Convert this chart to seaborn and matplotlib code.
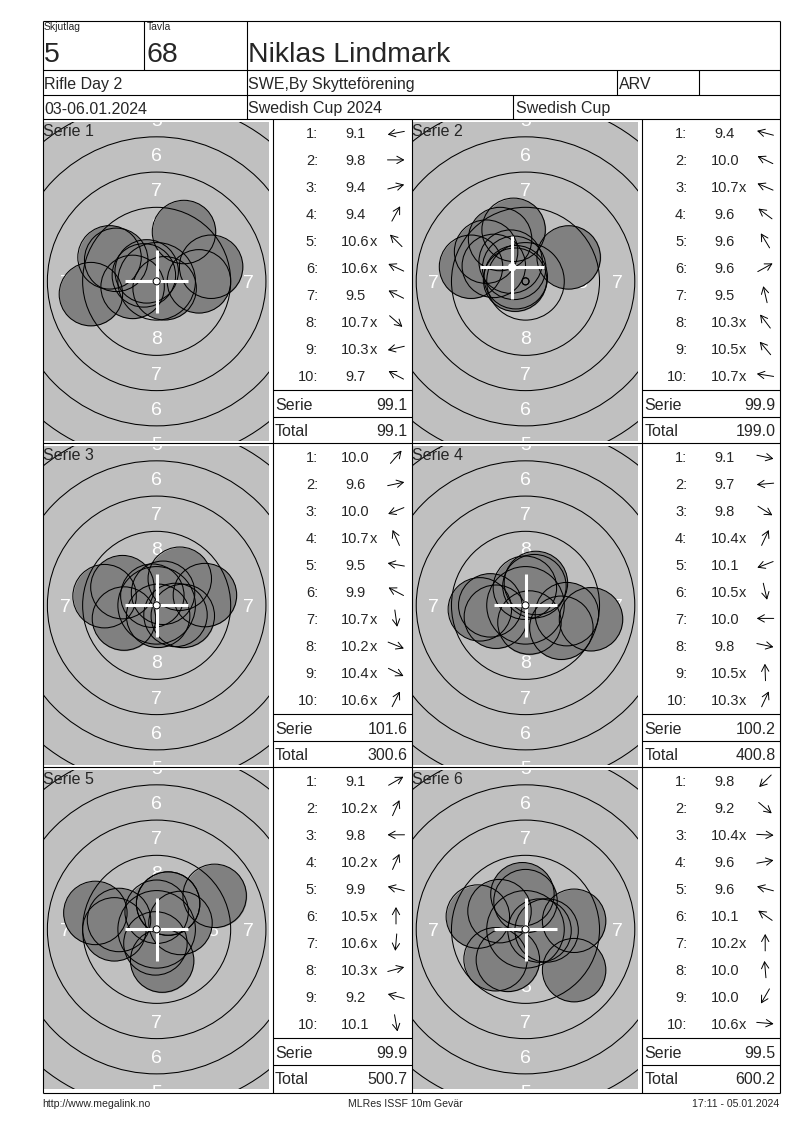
import numpy as np
import matplotlib
matplotlib.use("Agg")
import matplotlib.pyplot as plt
from matplotlib.patches import Circle
import seaborn as sns

sns.set_theme(style="white")
plt.rcParams['font.family'] = ['Liberation Sans', 'DejaVu Sans']

# --- header texts ---
relay = "5"
lane = "68"
shooter = "Niklas Lindmark"
class_name = "Rifle Day 2"
club = "SWE,By Skytteförening"
arv = "ARV"
dates = "03-06.01.2024"
event = "Swedish Cup 2024"
event_short = "Swedish Cup"
footer_left = "http://www.megalink.no"
footer_mid = "MLRes ISSF 10m Gevär"
footer_right = "17:11 - 05.01.2024"

# --- decimal scores per series ---
serie1 = [9.1, 9.8, 9.4, 9.4, 10.6, 10.6, 9.5, 10.7, 10.3, 9.7]
serie2 = [9.4, 10.0, 10.7, 9.6, 9.6, 9.6, 9.5, 10.3, 10.5, 10.7]
serie3 = [10.0, 9.6, 10.0, 10.7, 9.5, 9.9, 10.7, 10.2, 10.4, 10.6]
serie4 = [9.1, 9.7, 9.8, 10.4, 10.1, 10.5, 10.0, 9.8, 10.5, 10.3]
serie5 = [9.1, 10.2, 9.8, 10.2, 9.9, 10.5, 10.6, 10.3, 9.2, 10.1]
serie6 = [9.8, 9.2, 10.4, 9.6, 9.6, 10.1, 10.2, 10.0, 10.0, 10.6]

# --- direction of each hit from the centre (degrees, ccw from right) ---
dir1 = [191, 0, 15, 61, 135, 155, 153, 319, 193, 152]
dir2 = [165, 154, 157, 143, 121, 29, 103, 127, 130, 171]
dir3 = [49, 12, 202, 114, 170, 152, 278, 338, 333, 63]
dir4 = [348, 185, 328, 65, 201, 283, 180, 348, 92, 65]
dir5 = [30, 66, 180, 66, 166, 90, 265, 15, 165, 280]
dir6 = [225, 320, 357, 10, 165, 145, 90, 95, 240, 355]

# white cross position per series (mm from centre)
cross_x = [0.0, -0.95, 0.0, 0.0, 0.0, 0.0]
cross_y = [0.0, 1.0, 0.0, 0.0, 0.0, 0.0]

scores = [serie1, serie2, serie3, serie4, serie5, serie6]
dirs = [dir1, dir2, dir3, dir4, dir5, dir6]

# target geometry (ISSF 10m air rifle, mm)
TEN_R = 0.25
RING_STEP = 2.5
PELLET_R = 2.25
PX_PER_MM = 14.1
TARGET_GREY = "#c0c0c0"
SHOT_GREY = "#808080"

W, H = 800, 1130
fig = plt.figure(figsize=(8, 11.3), dpi=100)


def add_px_axes(x0, y0, x1, y1):
    return fig.add_axes([x0 / W, 1 - y1 / H, (x1 - x0) / W, (y1 - y0) / H])


TGT_X = [(44.0, 269.3), (412.7, 638.3)]
COL_L = [272.5, 641.7]
COL_R = [411.5, 779.5]
marker_s = (2 * PELLET_R * PX_PER_MM * 72 / 100) ** 2

for k in range(6):
    r, c = divmod(k, 2)
    x0, x1 = TGT_X[c]
    y0, y1 = 122 + 324 * r, 440.7 + 324 * r
    ax = add_px_axes(x0, y0, x1, y1)
    ax.set_facecolor(TARGET_GREY)
    hx = (x1 - x0) / 2 / PX_PER_MM
    hy = (y1 - y0) / 2 / PX_PER_MM

    # ring numbers
    for n in range(1, 9):
        rad = TEN_R + (10 - n) * RING_STEP - RING_STEP / 2
        for px, py in [(0, rad), (0, -rad), (rad, 0), (-rad, 0)]:
            ax.text(px, py, str(n), color="white", fontsize=14, ha="center",
                    va="center_baseline", clip_on=True, zorder=1)

    s = np.array(scores[k])
    a = np.radians(dirs[k])
    d = (11 - s) * RING_STEP
    xs, ys = d * np.cos(a), d * np.sin(a)

    sns.scatterplot(x=xs, y=ys, ax=ax, s=marker_s, color=SHOT_GREY,
                    linewidth=0, zorder=2)
    for n in range(1, 11):
        ax.add_patch(Circle((0, 0), TEN_R + (10 - n) * RING_STEP, fill=False,
                            ec="black", lw=0.75, zorder=3))
    sns.scatterplot(x=xs, y=ys, ax=ax, s=marker_s, facecolor="none",
                    edgecolor="black", linewidth=0.75, zorder=3)

    cx, cy = cross_x[k], cross_y[k]
    ax.plot([cx - PELLET_R, cx + PELLET_R], [cy, cy], color="white", lw=2.2,
            solid_capstyle="butt", zorder=4)
    ax.plot([cx, cx], [cy - PELLET_R, cy + PELLET_R], color="white", lw=2.2,
            solid_capstyle="butt", zorder=4)
    ax.add_patch(Circle((cx, cy), TEN_R, color="white", zorder=4))
    ax.add_patch(Circle((0, 0), TEN_R, fill=False, ec="black", lw=0.75, zorder=5))

    ax.set_xlim(-hx, hx)
    ax.set_ylim(-hy, hy)
    ax.set_xticks([])
    ax.set_yticks([])
    ax.set_xlabel("")
    ax.set_ylabel("")
    for sp in ax.spines.values():
        sp.set_visible(False)

# page overlay in pixel units
page = fig.add_axes([0, 0, 1, 1], zorder=10)
page.set_xlim(0, W)
page.set_ylim(H, 0)
page.axis("off")
LW = 0.8


def hline(y, xa, xb):
    page.plot([xa, xb], [y, y], color="black", lw=LW, solid_capstyle="butt")


def vline(x, ya, yb):
    page.plot([x, x], [ya, yb], color="black", lw=LW, solid_capstyle="butt")


LEFT, RIGHT, TOP, BOTTOM = 42.7, 779.5, 21.3, 1093
hline(TOP, LEFT, RIGHT)
hline(BOTTOM, LEFT, RIGHT)
vline(LEFT, TOP, BOTTOM)
vline(RIGHT, TOP, BOTTOM)
for y in [70, 95, 119, 443.3, 767.3]:
    hline(y, LEFT, RIGHT)
vline(144, TOP, 70)
vline(246.7, TOP, 119)
vline(616.7, 70, 95)
vline(699, 70, 95)
vline(513.3, 95, 119)
for x in [272.5, 411.5, 641.7]:
    vline(x, 119, BOTTOM)

# header text
page.text(44, 26.5, "Skjutlag", fontsize=7.5, va="center_baseline")
page.text(146.5, 26.5, "Tavla", fontsize=7.5, va="center_baseline")
page.text(44, 52, relay, fontsize=20.5, va="center_baseline")
page.text(146.5, 52, lane, fontsize=20.5, va="center_baseline")
page.text(248, 52, shooter, fontsize=20.5, va="center_baseline")
page.text(44, 83, class_name, fontsize=11.5, va="center_baseline")
page.text(248, 83, club, fontsize=11.5, va="center_baseline")
page.text(618.5, 83, arv, fontsize=11.5, va="center_baseline")
page.text(44, 107.5, dates, fontsize=11.5, va="center_baseline")
page.text(248, 107.5, event, fontsize=11.5, va="center_baseline")
page.text(515.5, 107.5, event_short, fontsize=11.5, va="center_baseline")

# score columns
renderer = fig.canvas.get_renderer()
total = 0.0
for k in range(6):
    r, c = divmod(k, 2)
    L, R = COL_L[c], COL_R[c]
    T = 119 + 324 * r
    page.text(TGT_X[c][0] - 1, T + 11, f"Serie {k + 1}", fontsize=11.5,
              va="center_baseline")
    for i, (s, a) in enumerate(zip(scores[k], dirs[k])):
        y = T + 14 + 26.9 * i
        page.text(L + 45.5, y, f"{i + 1}:", fontsize=10.5, ha="right",
                  va="center_baseline")
        t = page.text(L + 83, y, f"{s:.1f}", fontsize=10.5, ha="center",
                      va="center_baseline")
        if s >= 10.2:
            bb = t.get_window_extent(renderer)
            page.text(bb.x1, y, "x", fontsize=10.5, ha="left",
                      va="center_baseline")
        ux, uy = np.cos(np.radians(a)), -np.sin(np.radians(a))
        ax_c, half = L + 123.5, 8.5
        page.annotate("", xy=(ax_c + ux * half, y + uy * half),
                      xytext=(ax_c - ux * half, y - uy * half),
                      arrowprops=dict(arrowstyle="->,head_length=0.4,head_width=0.22",
                                      lw=0.7, color="black", shrinkA=0, shrinkB=0,
                                      mutation_scale=12))
    serie_sum = round(sum(scores[k]), 1)
    total = round(total + serie_sum, 1)
    hline(T + 271, L, R)
    hline(T + 298.3, L, R)
    page.text(L + 2.5, T + 285, "Serie", fontsize=11.5, va="center_baseline")
    page.text(R - 4, T + 285, f"{serie_sum:.1f}", fontsize=11.5, ha="right",
              va="center_baseline")
    page.text(L + 2.5, T + 311, "Total", fontsize=11.5, va="center_baseline")
    page.text(R - 4, T + 311, f"{total:.1f}", fontsize=11.5, ha="right",
              va="center_baseline")

# footer
page.text(42, 1103, footer_left, fontsize=7.6, va="center_baseline")
page.text(405, 1103, footer_mid, fontsize=7.6, ha="center", va="center_baseline")
page.text(779, 1103, footer_right, fontsize=7.6, ha="right", va="center_baseline")

fig.savefig("out.png", dpi=100)
